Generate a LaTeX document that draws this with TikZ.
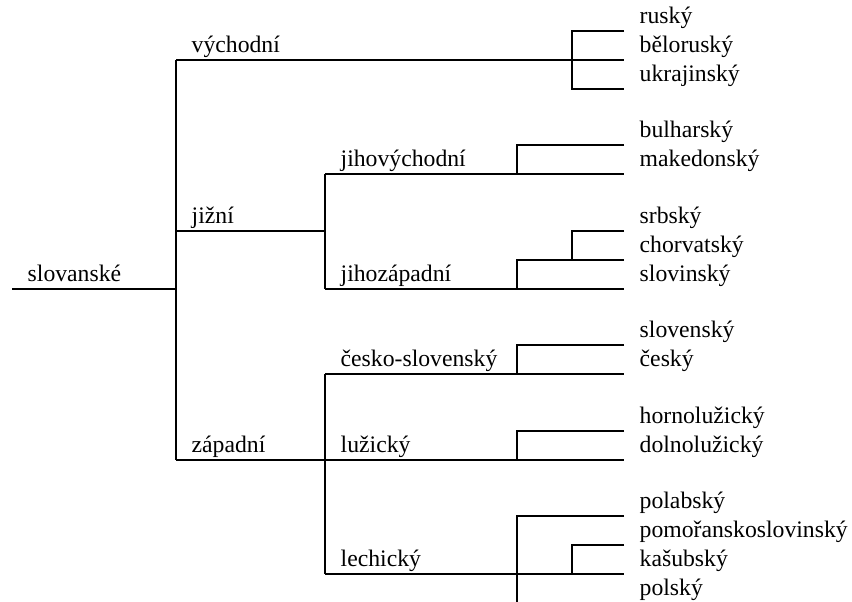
\documentclass[tikz,border=0pt]{standalone}
\usepackage{fontspec}
\setmainfont{Liberation Serif}

\tikzset{
  vetev/.style={line width=2pt},
  jmeno/.style={anchor=base west, inner sep=0pt, xshift=15.5pt, yshift=7.5pt,
    font=\fontsize{23.7}{28}\selectfont}
}

\begin{document}
\begin{tikzpicture}[x=1pt, y=-1pt]
    \useasboundingbox (0,0) rectangle (852,602);
    % uzly stromu
    \coordinate (root) at (12,289);
    \coordinate (slav) at (176,289);
    \coordinate (vych) at (176,60);
    \coordinate (jiz)  at (176,231);
    \coordinate (zap)  at (176,460);
    \coordinate (jv)   at (325,174);
    \coordinate (jz)   at (325,289);
    \coordinate (cs)   at (325,374);
    \coordinate (luz)  at (325,460);
    \coordinate (lech) at (325,574);
    \coordinate (vychB) at (572,60);
    \coordinate (jvB)  at (517,174);
    \coordinate (jzB)  at (517,289);
    \coordinate (srbB) at (572,260);
    \coordinate (csB)  at (517,374);
    \coordinate (luzB) at (517,460);
    \coordinate (kasB) at (572,574);
    \coordinate (konec) at (517,602);
    % listy
    \coordinate (rus)    at (624,31);
    \coordinate (bel)    at (624,60);
    \coordinate (ukr)    at (624,89);
    \coordinate (bul)    at (624,145);
    \coordinate (mak)    at (624,174);
    \coordinate (srb)    at (624,231);
    \coordinate (chor)   at (624,260);
    \coordinate (slovin) at (624,289);
    \coordinate (slovak) at (624,345);
    \coordinate (cesk)   at (624,374);
    \coordinate (horn)   at (624,431);
    \coordinate (doln)   at (624,460);
    \coordinate (polab)  at (624,516);
    \coordinate (pom)    at (624,545);
    \coordinate (kas)    at (624,574);
    \coordinate (pols)   at (624,603);

    \draw[vetev] (root) -- (slav);
    \draw[vetev] (vych) -- (zap);
    \draw[vetev] (vych) -- (bel);
    \draw[vetev] (rus) -| (vychB) |- (ukr);
    \draw[vetev] (jiz) -- (jiz -| jv);
    \draw[vetev] (jv) -- (jz);
    \draw[vetev] (jv) -- (mak);
    \draw[vetev] (bul) -| (jvB);
    \draw[vetev] (jz) -- (slovin);
    \draw[vetev] (chor) -| (jzB);
    \draw[vetev] (srb) -| (srbB);
    \draw[vetev] (zap) -- (doln);
    \draw[vetev] (cs) -- (lech);
    \draw[vetev] (cs) -- (cesk);
    \draw[vetev] (slovak) -| (csB);
    \draw[vetev] (horn) -| (luzB);
    \draw[vetev] (lech) -- (kas);
    \draw[vetev] (polab) -| (konec);
    \draw[vetev] (pom) -| (kasB);

    \node[jmeno] (tslav) at (root) {slovanské};
    \node[jmeno] (tvych) at (vych) {východní};
    \node[jmeno] (tjiz)  at (jiz)  {jižní};
    \node[jmeno] (tzap)  at (zap)  {západní};
    \node[jmeno] (tjv)   at (jv)   {jihovýchodní};
    \node[jmeno] (tjz)   at (jz)   {jihozápadní};
    \node[jmeno] (tcs)   at (cs)   {česko-slovenský};
    \node[jmeno] (tluz)  at (luz)  {lužický};
    \node[jmeno] (tlech) at (lech) {lechický};

    \node[jmeno] (trus)    at (rus)    {ruský};
    \node[jmeno] (tbel)    at (bel)    {běloruský};
    \node[jmeno] (tukr)    at (ukr)    {ukrajinský};
    \node[jmeno] (tbul)    at (bul)    {bulharský};
    \node[jmeno] (tmak)    at (mak)    {makedonský};
    \node[jmeno] (tsrb)    at (srb)    {srbský};
    \node[jmeno] (tchor)   at (chor)   {chorvatský};
    \node[jmeno] (tslovin) at (slovin) {slovinský};
    \node[jmeno] (tslovak) at (slovak) {slovenský};
    \node[jmeno] (tcesk)   at (cesk)   {český};
    \node[jmeno] (thorn)   at (horn)   {hornolužický};
    \node[jmeno] (tdoln)   at (doln)   {dolnolužický};
    \node[jmeno] (tpolab)  at (polab)  {polabský};
    \node[jmeno] (tpom)    at (pom)    {pomořanskoslovinský};
    \node[jmeno] (tkas)    at (kas)    {kašubský};
    \node[jmeno] (tpols)   at (pols)   {polský};
\end{tikzpicture}
\end{document}
